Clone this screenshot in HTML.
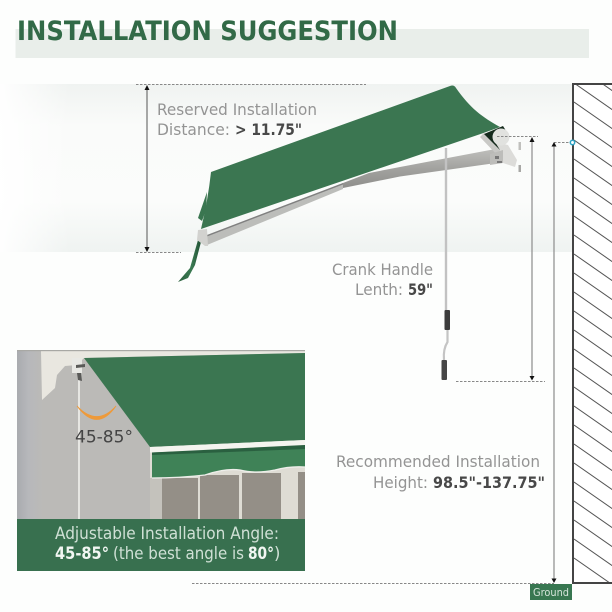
<!DOCTYPE html>
<html><head><meta charset="utf-8"><style>
html,body{margin:0;padding:0;background:#fff}
svg{display:block}
text{font-family:"DejaVu Sans","Liberation Sans",sans-serif}
.l{fill:#949494;font-size:16px}
.b{fill:#484848;font-weight:bold;font-size:16px}
</style></head><body>
<svg width="612" height="612" viewBox="0 0 612 612" xmlns="http://www.w3.org/2000/svg">
<defs>
<linearGradient id="fade" x1="0" x2="1" y1="0" y2="0"><stop offset="0" stop-color="#fff" stop-opacity=".95"/><stop offset="1" stop-color="#fff" stop-opacity="0"/></linearGradient>
<linearGradient id="bandv" x1="0" x2="0" y1="0" y2="1"><stop offset="0" stop-color="#f0f3f1"/><stop offset=".25" stop-color="#fafbfa"/><stop offset=".7" stop-color="#fbfcfb"/><stop offset="1" stop-color="#eff3f1"/></linearGradient>
<linearGradient id="arm" x1="0" x2="0" y1="0" y2="1"><stop offset="0" stop-color="#c0c0bd"/><stop offset=".5" stop-color="#a3a3a0"/><stop offset="1" stop-color="#8f8f8c"/></linearGradient>
<linearGradient id="flap" x1="0" x2="1" y1="0" y2="0"><stop offset="0" stop-color="#2a5f3e"/><stop offset=".6" stop-color="#3b7a52"/><stop offset="1" stop-color="#1f5033"/></linearGradient>
<linearGradient id="pl" x1="0" x2="1" y1="0" y2="0"><stop offset="0" stop-color="#a9abaf"/><stop offset=".45" stop-color="#b7b8bb"/><stop offset="1" stop-color="#bbbab7"/></linearGradient>
<clipPath id="wc"><rect x="574" y="85" width="38" height="497"/></clipPath>
<clipPath id="ph"><rect x="17" y="350" width="288" height="170"/></clipPath>
</defs>
<rect width="612" height="612" fill="#fdfefd"/>
<rect x="15.500" y="29" width="573.500" height="29" fill="#e9eeea"/>
<text x="17" y="40" font-size="27" font-weight="bold" fill="#326a47" textLength="381" lengthAdjust="spacingAndGlyphs">INSTALLATION SUGGESTION</text>

<rect x="0" y="84" width="572" height="168" fill="url(#bandv)"/>
<rect x="0" y="84" width="70" height="168" fill="url(#fade)"/>

<!-- wall -->
<rect x="573" y="84" width="39" height="499" fill="#fff"/>
<g clip-path="url(#wc)" stroke="#555" stroke-width="1">
<path d="M574 64L640 110M574 83L640 129M574 102L640 148M574 121L640 167M574 140L640 186M574 159L640 205M574 178L640 224M574 197L640 243M574 216L640 262M574 235L640 281M574 254L640 300M574 273L640 319M574 292L640 338M574 311L640 357M574 330L640 376M574 349L640 395M574 368L640 414M574 387L640 433M574 406L640 452M574 425L640 471M574 444L640 490M574 463L640 509M574 482L640 528M574 501L640 547M574 520L640 566M574 539L640 585M574 558L640 604"/>
</g>
<path d="M612 84H573V583H612" fill="none" stroke="#444" stroke-width="2"/>

<!-- rear flap -->
<path d="M207 192L198 218L202 221L206 210Z" fill="#3a7650"/>
<path d="M198 240L190 268L178 282L188 278L195 265L201 242Z" fill="url(#flap)"/>
<!-- arms -->
<path d="M490 150L400 167L369 173L343 183L343 188L400 176.500L503 162L503 148Z" fill="url(#arm)"/>
<path d="M343 183L207 235L207 245L343 189Z" fill="#bcbdba"/>
<path d="M343 183L207 235L207 236.500L343 184.500Z" fill="#808080"/>
<path d="M198 230L207 229L208 246L205 246L197 240Z" fill="#d2d2cf"/>
<!-- strut & bracket -->
<path d="M480 137L484 133L503 152L499 157Z" fill="#c9c9c6"/>
<path d="M484 134L503 126L508 134L500 150Z" fill="#142a1c"/>
<path d="M495 142L508 145L517 160L515 167L503 163L496 160L500 150Z" fill="#dcdcd9"/>
<path d="M490 154L503 150L503 163L490 165Z" fill="#bdbdba"/>
<path d="M495 156h4v3h-4zM497 161h5v2h-5z" fill="#777"/>
<rect x="518.500" y="142" width="2.500" height="8" fill="#c0c0bd"/><rect x="518.500" y="165" width="2.500" height="7" fill="#a8a8a5"/>
<!-- canopy -->
<path d="M211 172L450 86Q454 84.500 456 88C470 108 482 117 500 127L482 133.500L201 229Q208 200 211 172Z" fill="#3b7651"/>
<circle cx="501" cy="137" r="8.500" fill="#e1e2df"/>
<!-- crank -->
<path d="M446 148V310" stroke="#c2c2c2" stroke-width="2.400" fill="none"/>
<rect x="444.500" y="310" width="5.500" height="20" rx="1" fill="#3c3c3c"/>
<path d="M447.500 330V342Q443 349 444 360" stroke="#c4c4c4" stroke-width="2.200" fill="none"/>
<rect x="441.500" y="360" width="5.500" height="20" rx="1" fill="#454545"/>

<!-- dimensions -->
<g fill="none" stroke="#888" stroke-width="1" stroke-dasharray="2.500 1.500">
<path d="M136 84.500H366M136 252.500H181M497 136.500H538M554 142.500H572M456 381.500H545M192 583.500H554"/>
</g>
<path d="M147 86V250" stroke="#555" stroke-width="1" fill="none"/>
<path d="M532 140V377M554 146V580" stroke="#8c8c8c" stroke-width="1.200" fill="none"/>
<g fill="#111">
<path d="M147 85l-2.500 5h5zM147 252l-2.500-5h5zM532 137l-2.500 5h5zM532 380.500l-2.500-4.500h5zM554 142l-2.500 4.500h5zM554 583l-2.500-4.500h5z"/>
</g>
<circle cx="572.500" cy="142.500" r="2.200" fill="#fff" stroke="#2fa3c4" stroke-width="1.500"/>
<rect x="530" y="584" width="42" height="16" fill="#387751"/>
<text x="533" y="596" font-size="10.500" fill="#d5e4da" textLength="36" lengthAdjust="spacingAndGlyphs">Ground</text>

<!-- labels -->
<text class="l" x="157" y="115" textLength="160" lengthAdjust="spacingAndGlyphs">Reserved Installation</text>
<text class="l" x="157" y="135" textLength="73" lengthAdjust="spacingAndGlyphs">Distance:</text>
<text class="b" x="235" y="135" textLength="67" lengthAdjust="spacingAndGlyphs">&gt; 11.75"</text>
<text class="l" x="332" y="275" textLength="101" lengthAdjust="spacingAndGlyphs">Crank Handle</text>
<text class="l" x="355" y="295" textLength="48" lengthAdjust="spacingAndGlyphs">Lenth:</text>
<text class="b" x="408" y="295" textLength="25" lengthAdjust="spacingAndGlyphs">59"</text>
<text class="l" x="336" y="467" textLength="204" lengthAdjust="spacingAndGlyphs">Recommended Installation</text>
<text class="l" x="373" y="488" textLength="55" lengthAdjust="spacingAndGlyphs">Height:</text>
<text class="b" x="433" y="488" textLength="112" lengthAdjust="spacingAndGlyphs">98.5"-137.75"</text>

<!-- photo -->
<g clip-path="url(#ph)">
<rect x="17" y="350" width="288" height="170" fill="#bbbab7"/>
<rect x="17" y="350" width="26" height="170" fill="url(#pl)"/>
<path d="M41 351H305V353L84 358L77 365L65 366L57 375L55 388L42 400Z" fill="#e9e7e0"/>
<rect x="17" y="350" width="288" height="1.200" fill="#a8a8a4"/>
<rect x="150" y="440" width="155" height="80" fill="#dedcd4"/>
<rect x="150" y="478" width="12" height="42" fill="#c4c2bc"/>
<rect x="162" y="478" width="36" height="42" fill="#948f87"/>
<rect x="200" y="475" width="39" height="45" fill="#948f87"/>
<rect x="242" y="473" width="39" height="47" fill="#948f87"/>
<rect x="298" y="472" width="7" height="48" fill="#948f87"/>
<rect x="78" y="372" width="2" height="148" fill="#e6e6e2"/>
<rect x="72" y="358" width="10" height="15" fill="#e8e8e4"/>
<path d="M76 368l9-1v-3l-9 1zM77 373l4 0 1 8-4-1z" fill="#5a5a58"/>
<path d="M84 358L305 353V440L150 447Z" fill="#3b7651"/>
<path d="M150 447L305 440V445L150 452.500Z" fill="#f4f4ef"/>
<path d="M152 452.500L305 447V467Q290 466 275 470Q255 474 240 470Q225 468 205 475Q180 478 152 478Z" fill="#3f8257"/>
<path d="M152 452.500L305 445V449L152 455Z" fill="#2a6040"/>
<path d="M152 478Q180 478 205 475Q225 468 240 470Q255 474 275 470Q290 466 305 467" fill="none" stroke="#eeeeea" stroke-width="1.300"/>
<path d="M77 406Q97 427 116 406Q97 433 77 406Z" fill="#ee9a3a" stroke="#ee9a3a" stroke-width=".8"/>
<text x="75" y="442.500" font-size="17" fill="#444" textLength="58" lengthAdjust="spacingAndGlyphs">45-85°</text>
</g>
<rect x="17" y="519" width="288" height="52" fill="#38704f"/>
<text x="55" y="539" font-size="16.500" fill="#cfe0d5" textLength="224" lengthAdjust="spacingAndGlyphs">Adjustable Installation Angle:</text>
<text x="55" y="559" font-size="16.500" font-weight="bold" fill="#f1f6f2" textLength="54" lengthAdjust="spacingAndGlyphs">45-85°</text>
<text x="113" y="559" font-size="16.500" fill="#cfe0d5" textLength="131" lengthAdjust="spacingAndGlyphs">(the best angle is</text>
<text x="248" y="559" font-size="16.500" font-weight="bold" fill="#f1f6f2" textLength="26" lengthAdjust="spacingAndGlyphs">80°</text>
<text x="274" y="559" font-size="16.500" fill="#cfe0d5">)</text>
</svg>
</body></html>
